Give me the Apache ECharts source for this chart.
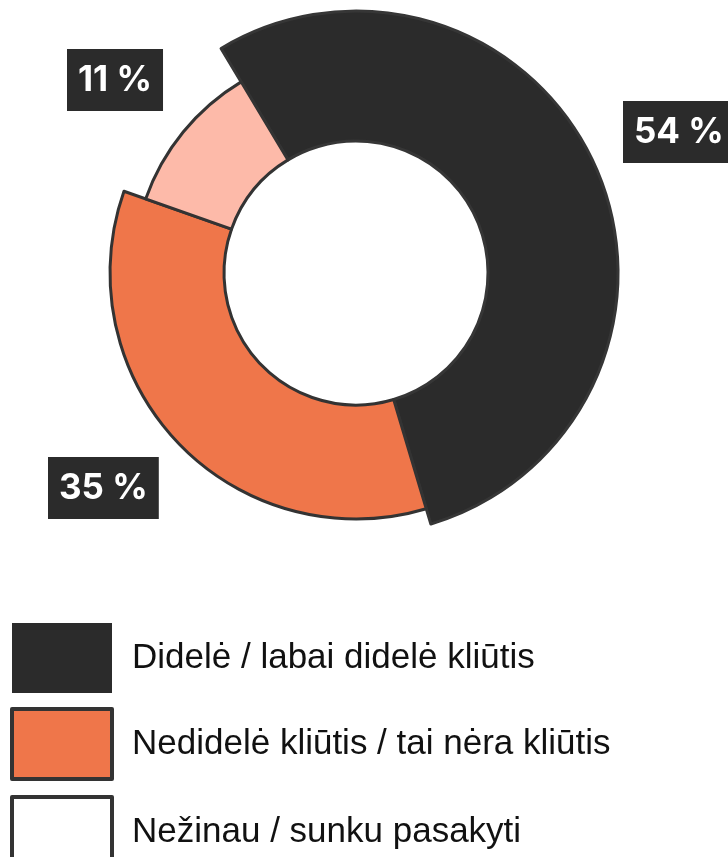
<!DOCTYPE html>
<html>
<head>
<meta charset="utf-8">
<script src="https://cdn.jsdelivr.net/npm/echarts@6/dist/echarts.min.js"></script>
<style>
  html, body { margin: 0; padding: 0; background: #fff; }
  #chart { width: 728px; height: 857px; }
</style>
</head>
<body>
<div id="chart"></div>
<script>
const categories = [
  "Didelė / labai didelė kliūtis",
  "Nedidelė kliūtis / tai nėra kliūtis",
  "Nežinau / sunku pasakyti",
];
const values = [54, 35, 11];
const sliceColors = ["#2b2b2b", "#ef764a", "#fdbaa9"];
const legendColors = ["#2b2b2b", "#ef764a", "#ffffff"];

// each slice has its own outer radius, so one pie series per slice
const outerRadii = [262, 246, 223];
const labelSpots = [
  { x: 623, y: 101 },
  { x: 48, y: 457 },
  { x: 67, y: 49 },
];

const myChart = echarts.init(document.getElementById("chart"));

const seriesArr = categories.map((cat, i) => {
  return {
    type: "pie",
    center: [356, 273],
    radius: [132, outerRadii[i]],
    startAngle: 121,
    clockwise: true,
    avoidLabelOverlap: false,
    silent: true,
    labelLine: { show: false },
    label: {
      formatter: "{c} %",
      color: "#fff",
      fontFamily: "Inter",
      fontWeight: "bold",
      fontSize: 35,
      lineHeight: 36,
      backgroundColor: "#2b2b2b",
      padding: [13, 11],
    },
    labelLayout: {
      x: labelSpots[i].x,
      y: labelSpots[i].y,
      align: "left",
      verticalAlign: "top",
    },
    data: values.map((v, j) => {
      return {
        name: categories[j],
        value: v,
        label: { show: j === i },
        itemStyle:
          j === i
            ? {
                color: sliceColors[j],
                borderColor: j === 0 ? "#363636" : "#333",
                borderWidth: 3,
              }
            : { color: "rgba(0,0,0,0)", borderWidth: 0 },
      };
    }),
  };
});

myChart.setOption({
  animation: false,
  legend: {
    orient: "vertical",
    left: 10,
    top: 623,
    height: 320,
    padding: 0,
    icon: "rect",
    itemWidth: 100,
    itemHeight: 70,
    itemGap: 14,
    selectedMode: false,
    textStyle: {
      fontFamily: "Liberation Sans",
      fontSize: 35,
      color: "#111",
      padding: [0, 0, 0, 15],
    },
    data: categories.map((cat, j) => {
      return {
        name: cat,
        itemStyle: {
          color: legendColors[j],
          borderColor: "#333",
          borderWidth: j === 0 ? 0 : 4,
        },
      };
    }),
  },
  series: seriesArr,
});
</script>
</body>
</html>
